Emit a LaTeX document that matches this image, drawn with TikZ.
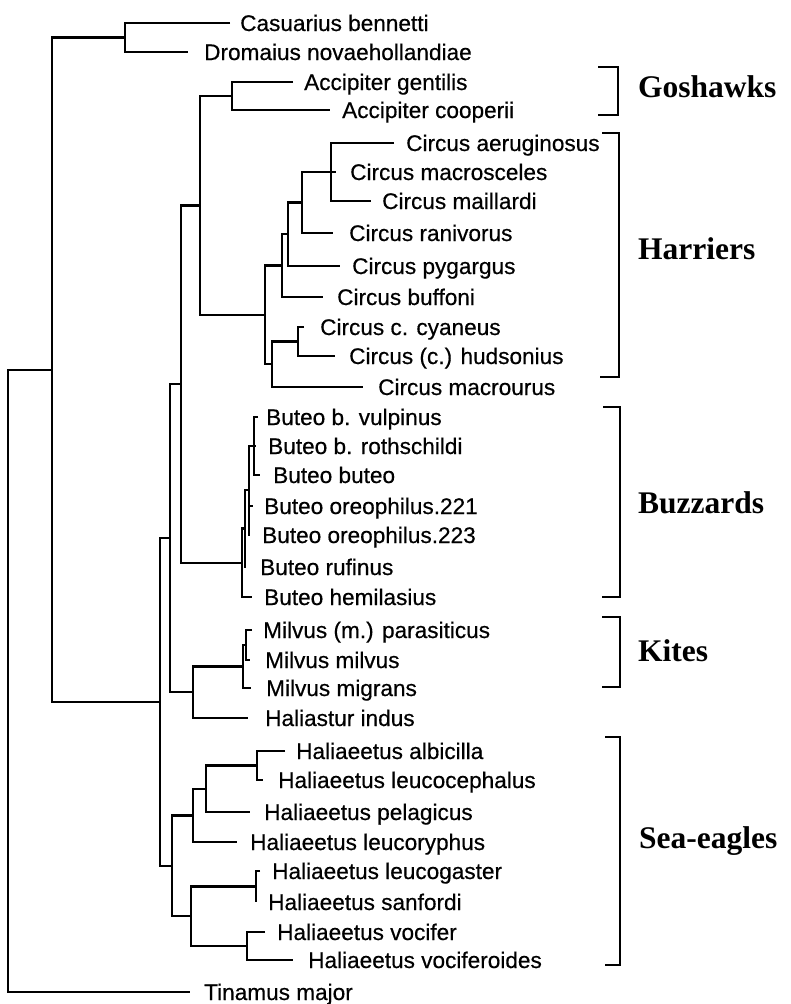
\documentclass[tikz,border=0pt]{standalone}
\usepackage{fontspec}
\setmainfont{Liberation Sans}
\newfontfamily\leaffont[FakeBold=0.5]{Liberation Sans}
\newfontfamily\grpfont{Liberation Serif}
\begin{document}
\begin{tikzpicture}[x=1pt,y=-1pt,
  br/.style={line width=2.1pt, line join=miter},
  leaf/.style={anchor=base west, inner sep=0pt, font=\leaffont\fontsize{22.6}{26}\selectfont},
  grp/.style={anchor=base west, inner sep=0pt, font=\grpfont\bfseries\fontsize{31.5}{36}\selectfont},
  bk/.style={line width=1.7pt, line join=miter}]
\useasboundingbox (0,0) rectangle (790,1004);

% ---- leaf tips ----
\coordinate (t1) at (230,23);
\coordinate (t2) at (188,52);
\coordinate (t3) at (293,82);
\coordinate (t4) at (330,110);
\coordinate (t5) at (394,143);
\coordinate (t6) at (336,172);
\coordinate (t7) at (371,201);
\coordinate (t8) at (333,233);
\coordinate (t9) at (340,266);
\coordinate (t10) at (323,297);
\coordinate (t11) at (304,327);
\coordinate (t12) at (335,356);
\coordinate (t13) at (363,387);
\coordinate (t14) at (258,417);
\coordinate (t15) at (256,446);
\coordinate (t16) at (260,475);
\coordinate (t17) at (253,506);
\coordinate (t18) at (250,535);
\coordinate (t19) at (246,567);
\coordinate (t20) at (252,597);
\coordinate (t21) at (252,630);
\coordinate (t22) at (250,660);
\coordinate (t23) at (251,688);
\coordinate (t24) at (248,718);
\coordinate (t25) at (285,751);
\coordinate (t26) at (263,780);
\coordinate (t27) at (250,812);
\coordinate (t28) at (237,842);
\coordinate (t29) at (260,871);
\coordinate (t30) at (256,902);
\coordinate (t31) at (265,932);
\coordinate (t32) at (293,960);
\coordinate (t33) at (190,992);

% ---- internal nodes ----
\coordinate (nRat) at (125,37.5);
\coordinate (nAcc) at (232,96);
\coordinate (nN1) at (331,172);
\coordinate (nN2) at (302,202.5);
\coordinate (nN3) at (288,234);
\coordinate (nN4) at (282,265.5);
\coordinate (nN5) at (298,341.5);
\coordinate (nH2) at (272,364);
\coordinate (nH) at (265,315);
\coordinate (nF) at (200,205.5);
\coordinate (nBT4) at (254,446);
\coordinate (nBT3) at (249,490);
\coordinate (nBT2) at (245,528.5);
\coordinate (nBT) at (242,563);
\coordinate (nD) at (181,384);
\coordinate (nMM) at (246,645);
\coordinate (nK) at (243,666.5);
\coordinate (nKH) at (193,692);
\coordinate (nE) at (170,538);
\coordinate (nS1a) at (257,765.5);
\coordinate (nS1b) at (206,789);
\coordinate (nS1) at (193,815.5);
\coordinate (nS2a) at (256,886.5);
\coordinate (nS2b) at (247,946);
\coordinate (nS2) at (191,916);
\coordinate (nSE) at (172,866);
\coordinate (nB) at (160,702);
\coordinate (nA) at (52,370);
\coordinate (nR) at (8,681);

% ---- branches ----
\draw[br] (t1) -| (nRat) |- (t2);
\draw[br] (t3) -| (nAcc) |- (t4);
\draw[br] (t5) -| (nN1) |- (t7);
\draw[br] (nN1) -- (t6);
\draw[br] (nN1) -| (nN2) |- (t8);
\draw[br] (nN2) -| (nN3) |- (t9);
\draw[br] (nN3) -| (nN4) |- (t10);
\draw[br] (t11) -| (nN5) |- (t12);
\draw[br] (nN5) -| (nH2) |- (t13);
\draw[br] (nN4) -| (nH) |- (nH2);
\draw[br] (nAcc) -| (nF) |- (nH);
\draw[br] (t14) -| (nBT4) |- (t16);
\draw[br] (nBT4) -- (t15);
\draw[br] (nBT4) -| (nBT3) |- (t18);
\draw[br] (nBT3 |- t17) -- (t17);
\draw[br] (nBT3) -| (nBT2) |- (t19);
\draw[br] (nBT2) -| (nBT) |- (t20);
\draw[br] (nF) -| (nD) |- (nBT);
\draw[br] (t21) -| (nMM) |- (t22);
\draw[br] (nMM) -| (nK) |- (t23);
\draw[br] (nK) -| (nKH) |- (t24);
\draw[br] (nD) -| (nE) |- (nKH);
\draw[br] (t25) -| (nS1a) |- (t26);
\draw[br] (nS1a) -| (nS1b) |- (t27);
\draw[br] (nS1b) -| (nS1) |- (t28);
\draw[br] (t29) -| (nS2a) |- (t30);
\draw[br] (t31) -| (nS2b) |- (t32);
\draw[br] (nS2a) -| (nS2) |- (nS2b);
\draw[br] (nS1) -| (nSE) |- (nS2);
\draw[br] (nE) -| (nB) |- (nSE);
\draw[br] (nRat) -| (nA) |- (nB);
\draw[br] (nA) -| (nR) |- (t33);

% ---- leaf labels ----
\node[leaf] (l1) at (240,31) {Casuarius bennetti};
\node[leaf] (l2) at (204,60) {Dromaius novaehollandiae};
\node[leaf] (l3) at (304,90) {Accipiter gentilis};
\node[leaf] (l4) at (342,118) {Accipiter cooperii};
\node[leaf] (l5) at (406,151) {Circus aeruginosus};
\node[leaf] (l6) at (350,180) {Circus macrosceles};
\node[leaf] (l7) at (382,209) {Circus maillardi};
\node[leaf] (l8) at (349,241) {Circus ranivorus};
\node[leaf] (l9) at (352,274) {Circus pygargus};
\node[leaf] (l10) at (337,305) {Circus buffoni};
\node[leaf] (l11) at (320,335) {Circus c. cyaneus};
\node[leaf] (l12) at (349,364) {Circus (c.) hudsonius};
\node[leaf] (l13) at (378,395) {Circus macrourus};
\node[leaf] (l14) at (266,425) {Buteo b. vulpinus};
\node[leaf] (l15) at (268,454) {Buteo b. rothschildi};
\node[leaf] (l16) at (273,483) {Buteo buteo};
\node[leaf] (l17) at (264,514) {Buteo oreophilus.221};
\node[leaf] (l18) at (262,543) {Buteo oreophilus.223};
\node[leaf] (l19) at (260,575) {Buteo rufinus};
\node[leaf] (l20) at (264,605) {Buteo hemilasius};
\node[leaf] (l21) at (263,638) {Milvus (m.) parasiticus};
\node[leaf] (l22) at (265,668) {Milvus milvus};
\node[leaf] (l23) at (266,696) {Milvus migrans};
\node[leaf] (l24) at (265,726) {Haliastur indus};
\node[leaf] (l25) at (296,759) {Haliaeetus albicilla};
\node[leaf] (l26) at (278,788) {Haliaeetus leucocephalus};
\node[leaf] (l27) at (264,820) {Haliaeetus pelagicus};
\node[leaf] (l28) at (250,850) {Haliaeetus leucoryphus};
\node[leaf] (l29) at (272,879) {Haliaeetus leucogaster};
\node[leaf] (l30) at (268,910) {Haliaeetus sanfordi};
\node[leaf] (l31) at (277,940) {Haliaeetus vocifer};
\node[leaf] (l32) at (308,968) {Haliaeetus vociferoides};
\node[leaf] (l33) at (204,1000) {Tinamus major};

% ---- group brackets ----
\draw[bk] (598,67) -- (618,67) -- (618,115) -- (598,115);
\draw[bk] (602,133) -- (619,133) -- (619,377) -- (600,377);
\draw[bk] (603,407) -- (620,407) -- (620,597) -- (602,597);
\draw[bk] (602,617) -- (620,617) -- (620,687) -- (602,687);
\draw[bk] (605,737) -- (620,737) -- (620,965) -- (605,965);

\node[grp] (g1) at (638,97) {Goshawks};
\node[grp] (g2) at (638,259) {Harriers};
\node[grp] (g3) at (638,513) {Buzzards};
\node[grp] (g4) at (638,661) {Kites};
\node[grp] (g5) at (639,848) {Sea-eagles};
\end{tikzpicture}
\end{document}
